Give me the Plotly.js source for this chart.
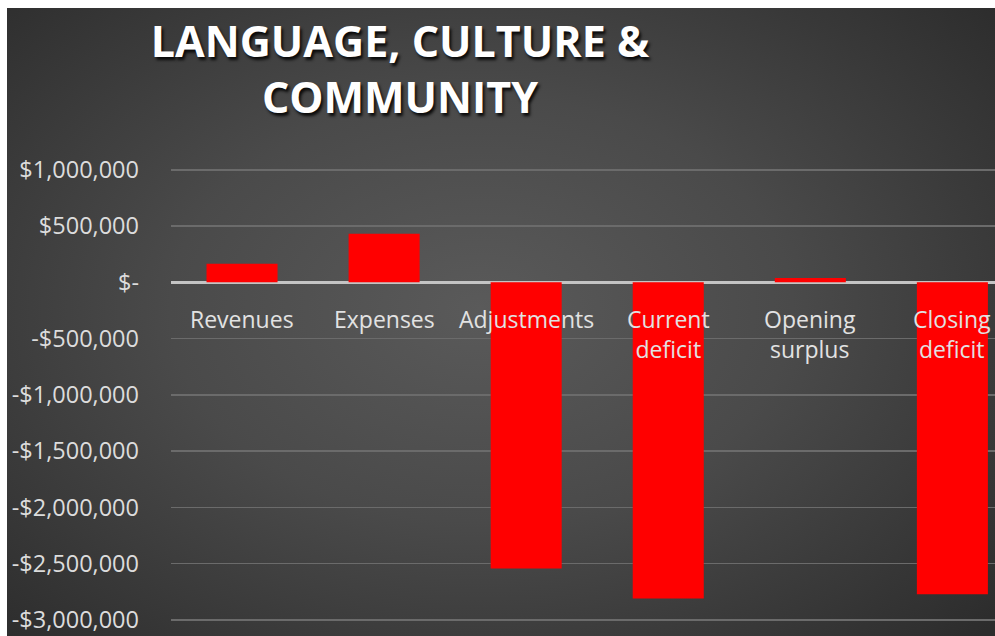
<!DOCTYPE html>
<html>
<head>
<meta charset="utf-8">
<script src="https://cdn.plot.ly/plotly-3.0.1.min.js"></script>
<style>
  html, body { margin: 0; padding: 0; background: #ffffff; }
  #bg {
    position: absolute; left: 7px; top: 8px; width: 988px; height: 628px;
    background: radial-gradient(ellipse 70% 75% at 48% 48%, #5a5a5a 0%, #4a4a4a 45%, #2c2c2c 100%);
  }
  #chart { position: absolute; left: 0; top: 0; width: 995px; height: 636px; }
</style>
</head>
<body>
<div id="bg"></div>
<div id="chart"></div>
<script>
const categories = ["Revenues", "Expenses", "Adjustments", "Current<br>deficit", "Opening<br>surplus", "Closing<br>deficit"];
const values = [166000, 433000, -2544000, -2811000, 38000, -2773000];
const tickValues = [1000000, 500000, 0, -500000, -1000000, -1500000, -2000000, -2500000, -3000000];
const tickLabels = ["$1,000,000", "$500,000", "$-", "-$500,000", "-$1,000,000", "-$1,500,000", "-$2,000,000", "-$2,500,000", "-$3,000,000"];
const titleText = "LANGUAGE, CULTURE &<br>COMMUNITY";

const xIdx = categories.map((c, i) => i);

const trace = {
  type: "bar",
  x: xIdx,
  y: values,
  width: 0.5,
  marker: { color: "#ff0000", line: { width: 0 } },
  hoverinfo: "skip"
};

const annotations = categories.map((c, i) => ({
  x: i, y: 0, xref: "x", yref: "y",
  text: c, showarrow: false,
  yanchor: "top", xanchor: "center",
  yshift: -19,
  font: { family: "Open Sans", size: 23, color: "#e2e2e2" }
}));

const layout = {
  width: 995, height: 636,
  margin: { l: 171, r: 0, t: 153, b: 5, pad: 0 },
  paper_bgcolor: "rgba(0,0,0,0)",
  plot_bgcolor: "rgba(0,0,0,0)",
  showlegend: false,
  title: {
    text: titleText,
    x: 0.402, xanchor: "center", xref: "container",
    y: 0.91, yanchor: "middle", yref: "container",
    font: { family: "Open Sans", size: 43, color: "#ffffff", weight: "bold", shadow: "2px 3px 3px rgba(0,0,0,0.85)" }
  },
  xaxis: {
    range: [-0.5, 5.3],
    showticklabels: false, showgrid: false, zeroline: false, showline: false, ticks: "",
    fixedrange: true
  },
  yaxis: {
    range: [-3100000, 1150000],
    tickvals: tickValues, ticktext: tickLabels,
    tickfont: { family: "Open Sans", size: 23.5, color: "#dcdcdc" },
    ticklabelstandoff: 31,
    showgrid: true, gridcolor: "#6b6b6b", gridwidth: 1.5,
    zeroline: true, zerolinecolor: "#c4c4c4", zerolinewidth: 2.5,
    showline: false, ticks: "", fixedrange: true
  },
  annotations: annotations
};

Plotly.newPlot("chart", [trace], layout, { displayModeBar: false, staticPlot: true });
</script>
</body>
</html>
